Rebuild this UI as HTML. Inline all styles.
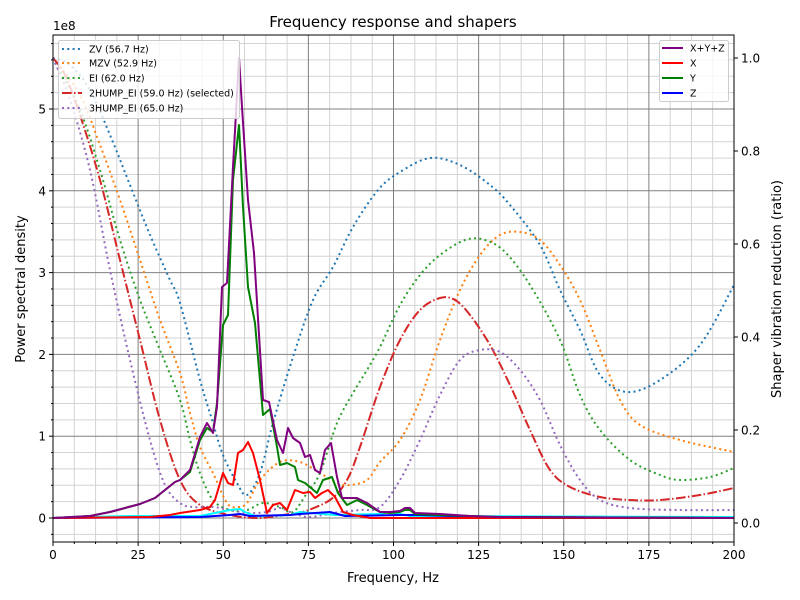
<!DOCTYPE html>
<html><head><meta charset="utf-8"><style>
body{margin:0;background:#fff;}
svg{display:block;font-family:"DejaVu Sans","Liberation Sans",sans-serif;}
</style></head><body>
<svg id="s" width="800" height="600" viewBox="0 0 800 600" xmlns="http://www.w3.org/2000/svg">
<rect width="800" height="600" fill="#fff"/>
<g id="grid"></g>
<g id="curves" fill="none" stroke-linejoin="round">
<polyline class="sm" stroke="#1f77b4" stroke-width="2" stroke-dasharray="2,3.3" points="53,58 70,65 90,90 110,135 130,185 150,235 170,280 180,303 200,380 213,423 223,455 237,483 247,495 260,473 273,423 293,357 313,300 333,267 353,227 378,190 400,172 430,158 460,165 490,185 510,205 540,245 560,290 580,330 600,375 627,392 660,380 700,345 734,285"/>
<polyline class="sm" stroke="#ff7f0e" stroke-width="2" stroke-dasharray="2,3.3" points="53,58 80,95 100,145 120,200 140,260 160,320 180,373 190,413 200,447 213,473 227,503 237,507 247,503 260,480 280,462 300,462 320,473 337,483 350,485 367,480 380,462 400,440 420,400 440,340 460,290 480,255 500,235 520,232 540,240 560,265 580,300 600,350 620,400 640,425 680,440 734,452"/>
<polyline class="sm" stroke="#2ca02c" stroke-width="2" stroke-dasharray="2,3.3" points="53,58 80,110 100,170 120,240 140,300 160,350 180,400 190,440 200,473 213,500 230,510 247,510 263,503 280,507 293,512 307,493 320,473 337,423 353,393 367,370 380,347 400,305 420,275 440,255 465,240 485,240 505,252 530,285 560,340 580,395 600,430 630,460 660,475 680,480 710,477 734,468"/>
<polyline class="sm" stroke="#d62728" stroke-width="2" stroke-dasharray="9.6,2.4,1.5,2.4" points="53,58 65,75 80,115 100,180 120,260 140,340 160,420 180,480 200,505 230,515 260,518 290,514 300,513 330,500 347,480 360,447 380,387 400,340 420,310 440,298 455,300 470,315 490,345 510,385 530,430 550,470 570,487 600,497 630,500 660,500 700,495 734,488"/>
<polyline class="sm" stroke="#9467bd" stroke-width="2" stroke-dasharray="2,3.3" points="53,58 70,100 90,170 110,270 130,360 150,440 165,485 180,503 193,507 213,507 230,510 247,513 267,512 280,508 290,512 307,517 323,515 340,512 360,510 380,507 400,480 420,440 440,395 460,360 480,350 500,352 520,370 540,400 560,445 580,480 600,500 630,508 680,510 734,510"/>
<polyline stroke="#00ffff" stroke-width="2" points="53,518 130,516 200,516 215,513 220,512 230,510 240,509 245,512 255,516 290,515 300,512 335,515 380,514 390,512 410,516 734,517"/>
<polyline stroke="#0000ff" stroke-width="2" points="53,518 200,517 230,515 240,514 250,516 290,515 300,514 330,512 345,516 400,515 420,515 480,517 734,518"/>
<polyline stroke="#ff0000" stroke-width="2" points="53,518 150,517 170,515 180,513 200,510 210,507 215,500 223,473 228,483 233,485 238,453 243,450 248,442 253,453 260,480 267,513 273,505 280,503 287,510 295,490 303,493 310,492 315,498 322,493 328,490 335,497 343,512 353,515 370,518 734,518"/>
<polyline stroke="#008000" stroke-width="2" points="53,518 90,516 110,512 125,508 140,504 155,498 165,490 175,482 180,480 190,472 200,440 207,428 213,432 217,403 223,325 228,315 233,180 239,125 243,207 248,287 255,323 263,415 270,409 277,447 280,465 287,463 295,467 298,480 305,483 317,493 323,480 332,477 338,493 347,505 357,500 367,505 380,512 390,513 400,512 405,510 410,510 415,514 440,515 470,516 500,517 734,518"/>
<polyline stroke="#800080" stroke-width="2" points="53,518 90,516 110,512 125,508 140,504 155,498 165,490 175,482 180,480 190,470 200,437 207,423 213,433 217,407 222,287 227,283 233,167 239,58 242,107 248,200 254,253 263,400 269,402 277,440 283,453 288,428 293,438 300,443 305,457 310,455 315,470 320,473 325,450 331,443 337,477 342,498 357,498 367,503 380,512 390,512 400,511 405,508 410,508 415,513 440,514 470,516 500,517 734,518"/>
</g>
<rect x="53" y="35" width="681" height="507" fill="none" stroke="#000" stroke-width="1"/>
<g id="ticks"></g>
<text x="393" y="27" font-size="15" text-anchor="middle">Frequency response and shapers</text>
<text x="53" y="30" font-size="12">1e8</text>
<text x="393" y="582" font-size="13" text-anchor="middle">Frequency, Hz</text>
<text transform="translate(25,289) rotate(-90)" font-size="13" text-anchor="middle">Power spectral density</text>
<text transform="translate(781,289) rotate(-90)" font-size="13" text-anchor="middle">Shaper vibration reduction (ratio)</text>
<g font-size="9.5">
<rect x="58.5" y="40.5" width="181" height="78" rx="2" fill="#fff" fill-opacity="0.8" stroke="#ccc"/>
<line x1="62" y1="49" x2="82" y2="49" stroke="#1f77b4" stroke-width="2" stroke-dasharray="2,3.3"/>
<line x1="62" y1="63" x2="82" y2="63" stroke="#ff7f0e" stroke-width="2" stroke-dasharray="2,3.3"/>
<line x1="62" y1="78" x2="82" y2="78" stroke="#2ca02c" stroke-width="2" stroke-dasharray="2,3.3"/>
<line x1="62" y1="93" x2="82" y2="93" stroke="#d62728" stroke-width="2" stroke-dasharray="9.6,2.4,1.5,2.4"/>
<line x1="62" y1="108" x2="82" y2="108" stroke="#9467bd" stroke-width="2" stroke-dasharray="2,3.3"/>
<text x="89" y="52.5">ZV (56.7 Hz)</text>
<text x="89" y="66.5">MZV (52.9 Hz)</text>
<text x="89" y="81.5">EI (62.0 Hz)</text>
<text x="89" y="96.5">2HUMP_EI (59.0 Hz) (selected)</text>
<text x="89" y="111.5">3HUMP_EI (65.0 Hz)</text>
<rect x="659.5" y="40.5" width="69" height="61" rx="2" fill="#fff" fill-opacity="0.8" stroke="#ccc"/>
<line x1="662" y1="48" x2="683" y2="48" stroke="#800080" stroke-width="2"/>
<line x1="662" y1="63" x2="683" y2="63" stroke="#ff0000" stroke-width="2"/>
<line x1="662" y1="78" x2="683" y2="78" stroke="#008000" stroke-width="2"/>
<line x1="662" y1="93" x2="683" y2="93" stroke="#0000ff" stroke-width="2"/>
<text x="690" y="51.5">X+Y+Z</text>
<text x="690" y="66.5">X</text>
<text x="690" y="81.5">Y</text>
<text x="690" y="96.5">Z</text>
</g>
</svg>
<script>
var NS="http://www.w3.org/2000/svg";
function el(p,t,a,txt){var e=document.createElementNS(NS,t);for(var k in a)e.setAttribute(k,a[k]);if(txt!==undefined)e.textContent=txt;document.getElementById(p).appendChild(e);return e;}
// smooth shaper curves
Array.prototype.slice.call(document.querySelectorAll("polyline.sm")).forEach(function(pl){
 var pts=pl.getAttribute("points").trim().split(/\s+/).map(function(s){return s.split(",").map(Number);});
 var d="M"+pts[0][0]+","+pts[0][1];
 for(var i=0;i<pts.length-1;i++){var p0=pts[Math.max(0,i-1)],p1=pts[i],p2=pts[i+1],p3=pts[Math.min(pts.length-1,i+2)];
  var c1x=p1[0]+(p2[0]-p0[0])/6,c1y=p1[1]+(p2[1]-p0[1])/6,c2x=p2[0]-(p3[0]-p1[0])/6,c2y=p2[1]-(p3[1]-p1[1])/6;
  d+=" C"+c1x.toFixed(1)+","+c1y.toFixed(1)+" "+c2x.toFixed(1)+","+c2y.toFixed(1)+" "+p2[0]+","+p2[1];}
 var p=document.createElementNS(NS,"path");
 ["stroke","stroke-width","stroke-dasharray"].forEach(function(a){p.setAttribute(a,pl.getAttribute(a));});
 p.setAttribute("d",d);p.setAttribute("fill","none");
 pl.parentNode.replaceChild(p,pl);
});
var X0=53,X1=734,Y0=35,Y1=542,px=681/200,py=81.8,yz=518;
for(var f=0;f<=200;f+=6.25){var x=X0+f*px;if(f%25)el("grid","line",{x1:x,x2:x,y1:Y0,y2:Y1,stroke:"#d3d3d3","stroke-width":1});}
for(var v=-0.2;v<=5.9;v+=0.2){var vv=Math.round(v*10)/10;var y=yz-vv*py;if(y<Y0||y>Y1)continue;if(Math.abs(vv-Math.round(vv))>0.01)el("grid","line",{x1:X0,x2:X1,y1:y,y2:y,stroke:"#d3d3d3","stroke-width":1});}
for(var f=25;f<200;f+=25){var x=X0+f*px;el("grid","line",{x1:x,x2:x,y1:Y0,y2:Y1,stroke:"#808080","stroke-width":1});}
for(var v=0;v<=5;v++){var y=yz-v*py;el("grid","line",{x1:X0,x2:X1,y1:y,y2:y,stroke:"#808080","stroke-width":1});}
for(var f=0;f<=200;f+=6.25){var x=X0+f*px;var maj=f%25==0;el("ticks","line",{x1:x,x2:x,y1:Y1,y2:Y1+(maj?4:2),stroke:"#000"});if(maj)el("ticks","text",{x:x,y:Y1+17,"font-size":12,"text-anchor":"middle"},String(f));}
for(var v=-0.2;v<=5.9;v+=0.2){var vv=Math.round(v*10)/10;var y=yz-vv*py;if(y<Y0||y>Y1)continue;var maj=Math.abs(vv-Math.round(vv))<0.01;el("ticks","line",{x1:X0,x2:X0-(maj?4:2),y1:y,y2:y,stroke:"#000"});if(maj)el("ticks","text",{x:X0-7,y:y+4.5,"font-size":12,"text-anchor":"end"},String(Math.round(vv)));}
for(var r=0;r<=1.001;r+=0.2){var y=523-r*465;el("ticks","line",{x1:X1,x2:X1+4,y1:y,y2:y,stroke:"#000"});el("ticks","text",{x:X1+7,y:y+4.5,"font-size":12},r.toFixed(1));}
</script>
</body></html>
